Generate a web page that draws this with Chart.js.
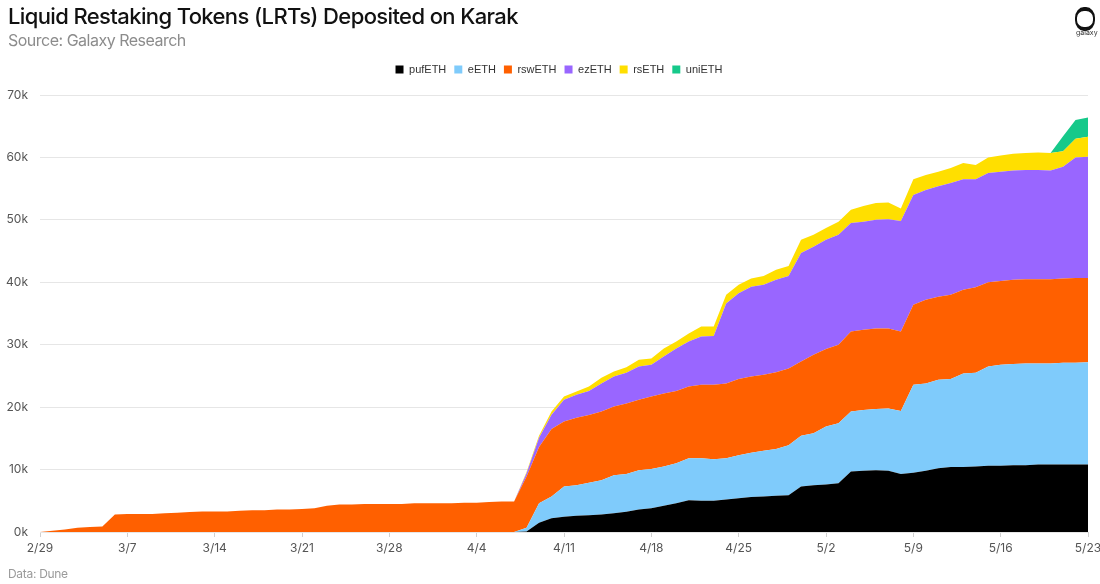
<!DOCTYPE html>
<html>
<head>
<meta charset="utf-8">
<script src="https://cdn.jsdelivr.net/npm/chart.js@4.4.1/dist/chart.umd.min.js"></script>
<style>
  html, body { margin: 0; padding: 0; background: #fff; }
  #wrap { position: relative; width: 1100px; height: 584px; overflow: hidden; }
  #chart { position: absolute; left: 0; top: 0; }
  .txt { position: absolute; z-index: 2; white-space: nowrap; font-family: Inter, sans-serif; }
  .title { left: 8px; top: 3px; font-size: 22px; font-weight: 500; color: #111; letter-spacing: -0.62px; }
  .subtitle { left: 8px; top: 30px; font-size: 16px; color: #8c8c8c; letter-spacing: -0.5px; }
  .footer { left: 8px; top: 566px; font-size: 12px; color: #9a9a9a; letter-spacing: -0.3px; }
  .logo-icon { position: absolute; z-index: 2; left: 1075px; top: 7px; width: 16px; height: 16px;
    border: 2px solid #111; border-top-width: 4px; border-bottom-width: 4px; border-radius: 45%; }
  .logo-text { left: 1076px; top: 28px; font-size: 7px; color: #333; }
</style>
</head>
<body>
<div id="wrap">
  <div class="txt title">Liquid Restaking Tokens (LRTs) Deposited on Karak</div>
  <div class="txt subtitle">Source: Galaxy Research</div>
  <div class="logo-icon"></div>
  <div class="txt logo-text">galaxy</div>
  <div class="txt footer">Data: Dune</div>
  <canvas id="chart" width="1100" height="584"></canvas>
</div>
<script>
// daily categories, 2/29 -> 5/23
const days = [
  '2/29',
  '3/1', '3/2', '3/3', '3/4', '3/5', '3/6', '3/7', '3/8', '3/9', '3/10', '3/11', '3/12', '3/13', '3/14', '3/15', '3/16',
  '3/17', '3/18', '3/19', '3/20', '3/21', '3/22', '3/23', '3/24', '3/25', '3/26', '3/27', '3/28', '3/29', '3/30', '3/31',
  '4/1', '4/2', '4/3', '4/4', '4/5', '4/6', '4/7', '4/8', '4/9', '4/10', '4/11', '4/12', '4/13', '4/14', '4/15',
  '4/16', '4/17', '4/18', '4/19', '4/20', '4/21', '4/22', '4/23', '4/24', '4/25', '4/26', '4/27', '4/28', '4/29', '4/30',
  '5/1', '5/2', '5/3', '5/4', '5/5', '5/6', '5/7', '5/8', '5/9', '5/10', '5/11', '5/12', '5/13', '5/14', '5/15',
  '5/16', '5/17', '5/18', '5/19', '5/20', '5/21', '5/22', '5/23'
];

// thousands of ETH
const pufETH = [
  0, 0, 0, 0, 0, 0, 0, 0, 0, 0, 0, 0, 0, 0, 0, 0, 0, 0, 0, 0, 0, 0, 0, 0, 0, 0, 0, 0, 0, 0,
  0, 0, 0, 0, 0, 0, 0, 0, 0,
  0.1, 1.5, 2.2, 2.45, 2.6, 2.7, 2.8, 3.0, 3.25, 3.6, 3.8, 4.2, 4.6, 5.1, 5.0, 5.0, 5.2, 5.4, 5.6, 5.7,
  5.8, 5.9, 7.3, 7.5, 7.6, 7.8, 9.7, 9.8, 9.9, 9.8, 9.3, 9.5, 9.8, 10.2, 10.4, 10.4, 10.5, 10.6, 10.6,
  10.7, 10.7, 10.8, 10.8, 10.8, 10.8, 10.8
];
const eETH = [
  0, 0, 0, 0, 0, 0, 0, 0, 0, 0, 0, 0, 0, 0, 0, 0, 0, 0, 0, 0, 0, 0, 0, 0, 0, 0, 0, 0, 0, 0,
  0, 0, 0, 0, 0, 0, 0, 0, 0,
  0.6, 3.1, 3.5, 4.85, 4.9, 5.2, 5.5, 6.1, 6.05, 6.3, 6.3, 6.3, 6.4, 6.7, 6.8, 6.65, 6.6, 6.9, 7.1, 7.3,
  7.5, 8.0, 8.1, 8.3, 9.3, 9.6, 9.6, 9.75, 9.8, 10.0, 10.1, 14.1, 14.0, 14.2, 14.1, 15.0, 15.0, 15.9, 16.2,
  16.2, 16.3, 16.2, 16.2, 16.3, 16.3, 16.4
];
const rswETH = [
  0, 0.2, 0.4, 0.7, 0.8, 0.9, 2.8, 2.9, 2.9, 2.9, 3.0, 3.1, 3.2, 3.3, 3.3, 3.3, 3.4, 3.5, 3.5, 3.6,
  3.6, 3.7, 3.8, 4.2, 4.4, 4.4, 4.5, 4.5, 4.5, 4.5, 4.6, 4.6, 4.6, 4.6, 4.7, 4.7, 4.8, 4.9, 4.9,
  8.2, 9.0, 10.8, 10.4, 10.8, 10.85, 11.0, 11.0, 11.3, 11.3, 11.6, 11.7, 11.6, 11.5, 11.8, 11.95, 12.0, 12.2, 12.2, 12.2,
  12.3, 12.3, 11.9, 12.6, 12.4, 12.6, 12.8, 12.85, 12.9, 12.8, 12.7, 12.8, 13.4, 13.3, 13.5, 13.4, 13.7, 13.5, 13.4,
  13.5, 13.5, 13.5, 13.5, 13.5, 13.6, 13.5
];
const ezETH = [
  0, 0, 0, 0, 0, 0, 0, 0, 0, 0, 0, 0, 0, 0, 0, 0, 0, 0, 0, 0, 0, 0, 0, 0, 0, 0, 0, 0, 0, 0,
  0, 0, 0, 0, 0, 0, 0, 0, 0,
  0.5, 1.5, 2.3, 3.5, 3.7, 3.85, 4.5, 4.8, 4.9, 5.3, 5.1, 5.9, 6.8, 7.2, 7.7, 7.8, 12.8, 13.75, 14.4, 14.4,
  14.8, 14.8, 17.4, 17.3, 17.5, 17.6, 17.4, 17.3, 17.4, 17.5, 17.7, 17.6, 17.6, 17.7, 17.9, 17.7, 17.3, 17.5, 17.5,
  17.5, 17.5, 17.5, 17.4, 17.9, 19.3, 19.4
];
const rsETH = [
  0, 0, 0, 0, 0, 0, 0, 0, 0, 0, 0, 0, 0, 0, 0, 0, 0, 0, 0, 0, 0, 0, 0, 0, 0, 0, 0, 0, 0, 0,
  0, 0, 0, 0, 0, 0, 0, 0, 0,
  0.2, 0.3, 0.5, 0.5, 0.5, 0.7, 0.9, 0.8, 0.9, 1.1, 1.0, 1.3, 1.1, 1.3, 1.6, 1.5, 1.4, 1.35, 1.3, 1.4,
  1.6, 1.6, 2.1, 1.9, 1.9, 2.1, 2.1, 2.5, 2.7, 2.7, 2.0, 2.5, 2.4, 2.3, 2.4, 2.6, 2.3, 2.5, 2.6,
  2.7, 2.7, 2.8, 2.8, 2.5, 3.0, 3.2
];
const uniETH = [
  0, 0, 0, 0, 0, 0, 0, 0, 0, 0, 0, 0, 0, 0, 0, 0, 0, 0, 0, 0, 0, 0, 0, 0, 0, 0, 0, 0, 0, 0,
  0, 0, 0, 0, 0, 0, 0, 0, 0,
  0, 0, 0, 0, 0, 0, 0, 0, 0, 0, 0, 0, 0, 0, 0, 0, 0, 0, 0, 0,
  0, 0, 0, 0, 0, 0, 0, 0, 0, 0, 0, 0, 0, 0, 0, 0, 0, 0, 0,
  0, 0, 0, 0, 2.4, 3.0, 3.1
];

const yTicks = [0, 10, 20, 30, 40, 50, 60, 70];

const series = [
  { label: 'pufETH', data: pufETH, color: '#000000' },
  { label: 'eETH', data: eETH, color: '#7fcbfb' },
  { label: 'rswETH', data: rswETH, color: '#ff6000' },
  { label: 'ezETH', data: ezETH, color: '#9966ff' },
  { label: 'rsETH', data: rsETH, color: '#ffdf00' },
  { label: 'uniETH', data: uniETH, color: '#16c98a' },
];

// push the plot area down below the legend, and nudge the legend right
const legendGap = {
  id: 'legendGap',
  beforeInit( chart ) {
    const fit = chart.legend.fit;
    chart.legend.fit = function() {
      fit.bind( chart.legend )();
      this.height += 10;
    };
  },
  afterLayout( chart ) {
    chart.legend.left += 15;
    chart.legend.right += 15;
  },
};

new Chart( document.getElementById( 'chart' ), {
  type: 'line',
  data: {
    labels: days,
    datasets: series.map( ( s, i ) => ( {
      label: s.label,
      data: s.data,
      backgroundColor: s.color,
      borderColor: s.color,
      borderWidth: 0,
      pointRadius: 0,
      tension: 0,
      fill: i === 0 ? 'origin' : '-1',
    } ) ),
  },
  options: {
    responsive: false,
    animation: false,
    layout: {
      padding: { top: 56, left: 0, right: 12, bottom: 0 },
    },
    scales: {
      x: {
        offset: false,
        afterFit: ( scale ) => {
          scale.height = 52;
          scale.paddingLeft = 0;
          scale.paddingRight = 0;
        },
        grid: {
          drawOnChartArea: false,
          drawTicks: true,
          tickLength: 5,
          color: ( ctx ) => ( ctx.index % 7 === 0 ? '#d0d0d0' : 'rgba(0,0,0,0)' ),
        },
        border: { display: false },
        ticks: {
          autoSkip: false,
          maxRotation: 0,
          padding: 4,
          color: '#555',
          font: { family: 'Inter', size: 12 },
          callback: function( value, index ) {
            return index % 7 === 0 ? days[index] : '';
          },
        },
      },
      y: {
        stacked: true,
        min: 0,
        max: 70,
        afterFit: ( scale ) => { scale.width = 40; },
        afterBuildTicks: ( scale ) => { scale.ticks = yTicks.map( v => ( { value: v } ) ); },
        grid: {
          color: '#e6e6e6',
          drawTicks: false,
        },
        border: { display: false },
        ticks: {
          padding: 12,
          color: '#555',
          font: { family: 'Inter', size: 12 },
          callback: ( value ) => value + 'k',
        },
      },
    },
    plugins: {
      legend: {
        position: 'top',
        labels: {
          boxWidth: 8,
          boxHeight: 8,
          padding: 8,
          color: '#333',
          font: { family: 'Liberation Sans', size: 11 },
        },
      },
      tooltip: { enabled: false },
    },
  },
  plugins: [legendGap],
} );
</script>
</body>
</html>
